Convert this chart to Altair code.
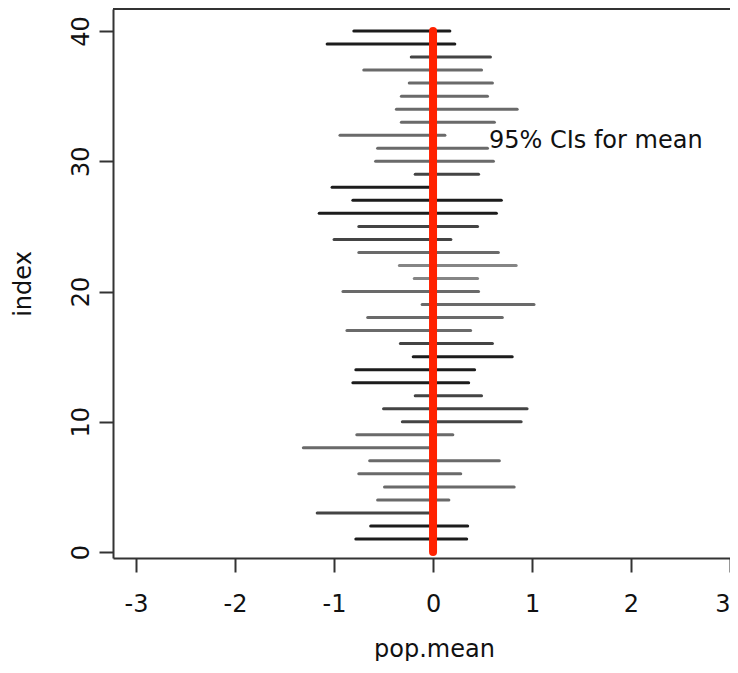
import altair as alt
import pandas as pd

# ---- data ----
index = list(range(1, 41))
lower = [-0.78, -0.63, -1.17, -0.56, -0.49, -0.75, -0.64, -1.31, -0.77, -0.31,
         -0.50, -0.18, -0.81, -0.78, -0.20, -0.33, -0.87, -0.66, -0.11, -0.91,
         -0.19, -0.34, -0.75, -1.00, -0.75, -1.15, -0.81, -1.02, -0.18, -0.58,
         -0.56, -0.94, -0.32, -0.37, -0.32, -0.24, -0.70, -0.22, -1.07, -0.80]
upper = [0.34, 0.35, -0.04, 0.16, 0.82, 0.28, 0.67, -0.04, 0.20, 0.89,
         0.95, 0.49, 0.36, 0.42, 0.80, 0.60, 0.38, 0.70, 1.02, 0.46,
         0.45, 0.84, 0.66, 0.18, 0.45, 0.64, 0.69, -0.04, 0.46, 0.61,
         0.55, 0.12, 0.62, 0.85, 0.55, 0.60, 0.49, 0.58, 0.22, 0.17]
shade = [0, 0, 1, 2, 2, 2, 2, 2, 2, 1,
         1, 1, 0, 0, 0, 1, 2, 2, 2, 2,
         3, 3, 2, 1, 1, 0, 0, 0, 1, 2,
         2, 2, 2, 2, 2, 2, 2, 1, 0, 0]
pop_mean = 0
line_from, line_to = 0, 40
x_ticks = [-3, -2, -1, 0, 1, 2, 3]
y_ticks = [0, 10, 20, 30, 40]
note = "95% CIs for mean"
note_x, note_y = 0.565, 31

ci = pd.DataFrame({"lower": lower, "upper": upper, "index": index, "shade": shade})
red = pd.DataFrame({"lower": [pop_mean], "index": [line_from], "index_end": [line_to]})
txt = pd.DataFrame({"lower": [note_x], "index": [note_y], "label": [note]})

W, H = 617, 549
FONT = "DejaVu Sans"
FS = 24
AX = "#333333"

xscale = alt.Scale(domain=[-3.233, 3.0], nice=False, zero=False)
yscale = alt.Scale(domain=[-0.46, 41.69], nice=False, zero=False)

xaxis = alt.Axis(values=x_ticks, title="pop.mean", grid=False, labelFlush=2,
                 labelExpr="'' + datum.value", labelBound=False, labelOverlap=False,
                 labelFont=FONT, labelFontSize=FS, labelColor="#111", labelPadding=20,
                 tickSize=14, tickWidth=2, tickColor=AX, domainWidth=2, domainColor=AX,
                 titleFont=FONT, titleFontSize=FS, titleFontWeight="normal", titleColor="#111",
                 titleX=321, titleY=98, titleAlign="center", titleBaseline="alphabetic")
yaxis = alt.Axis(values=y_ticks, title="index", grid=False, labelFlush=False,
                 labelExpr="'' + datum.value",
                 labelAngle=270, labelAlign="center", labelBaseline="bottom",
                 labelFont=FONT, labelFontSize=FS, labelColor="#111", labelPadding=6,
                 tickSize=14, tickWidth=2, tickColor=AX, domainWidth=2, domainColor=AX,
                 titleFont=FONT, titleFontSize=FS, titleFontWeight="normal", titleColor="#111",
                 titleAngle=270, titleX=-90, titleY=H / 2, titleAlign="center",
                 titleBaseline="middle")

X = alt.X("lower:Q", scale=xscale, axis=xaxis)
Y = alt.Y("index:Q", scale=yscale, axis=yaxis)

border = alt.Chart(pd.DataFrame({"a": [0]})).mark_rule(color=AX, strokeWidth=2).encode(
    x=alt.value(0), x2=alt.value(W), y=alt.value(0))

segs = alt.Chart(ci).mark_rule(strokeWidth=3, strokeCap="round").encode(
    x=X, x2="upper:Q", y=Y,
    color=alt.Color("shade:N", scale=alt.Scale(domain=[0, 1, 2, 3],
                    range=["#1c1c1c", "#444444", "#6a6a6a", "#858585"]), legend=None))

redline = alt.Chart(red).mark_rule(color="#ff2200", strokeWidth=8, strokeCap="round").encode(
    x=X, y=Y, y2="index_end:Q")

label = alt.Chart(txt).mark_text(align="left", baseline="alphabetic", font=FONT,
                                 fontSize=FS, color="#111").encode(
    x=X, y=Y, text="label:N")

chart = alt.layer(border, segs, redline, label).properties(
    width=W, height=H,
    padding={"left": 105, "top": 1, "right": 0, "bottom": 103},
    autosize=alt.AutoSizeParams(type="none"),
    background="white",
).configure_view(stroke=None)

chart.save("out.html", embed_options={"renderer": "svg", "actions": False})
